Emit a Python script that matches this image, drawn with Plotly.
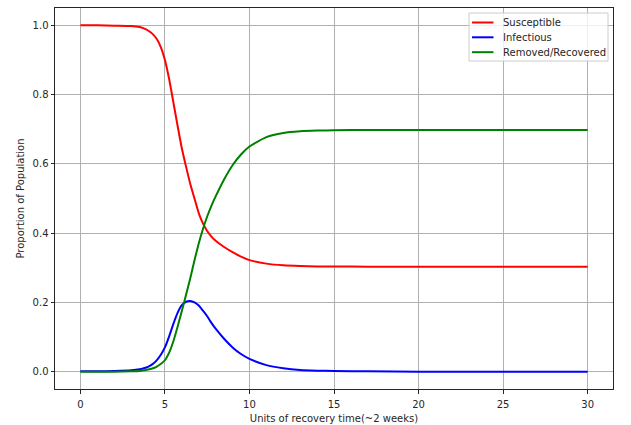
import plotly.graph_objects as go

t = [0, 1, 2, 3, 3.5, 3.75, 4, 4.25, 4.5, 4.75, 5, 5.25, 5.5, 5.75, 6, 6.25,
     6.5, 6.75, 7, 7.25, 7.5, 7.75, 8, 8.5, 9, 9.5, 10,
     11, 12, 13, 14, 15, 17, 20, 25, 30]
susceptible = [1.000, 1.000, 0.999, 0.998, 0.995, 0.991, 0.985, 0.976, 0.962,
               0.938, 0.900, 0.845, 0.778, 0.710, 0.645, 0.592, 0.542, 0.500,
               0.458, 0.428, 0.406, 0.390, 0.378, 0.360, 0.345, 0.332, 0.322,
               0.312, 0.307, 0.305, 0.304, 0.304, 0.303, 0.303, 0.303, 0.303]
infectious = [0.001, 0.001, 0.002, 0.004, 0.007, 0.010, 0.014, 0.021, 0.032,
              0.048, 0.070, 0.102, 0.138, 0.170, 0.192, 0.202, 0.204, 0.200,
              0.191, 0.176, 0.160, 0.141, 0.124, 0.095, 0.070, 0.051, 0.037,
              0.019, 0.010, 0.005, 0.003, 0.002, 0.001, 0.000, 0.000, 0.000]
recovered = [0.000, 0.000, 0.000, 0.001, 0.002, 0.004, 0.006, 0.009, 0.014,
             0.022, 0.033, 0.055, 0.088, 0.130, 0.175, 0.222, 0.270, 0.322,
             0.370, 0.412, 0.448, 0.479, 0.506, 0.555, 0.596, 0.627, 0.650,
             0.677, 0.689, 0.694, 0.696, 0.697, 0.698, 0.698, 0.698, 0.698]
names = ["Susceptible", "Infectious", "Removed/Recovered"]
colors = ["#ff0000", "#0000ff", "#008000"]
x_ticks = [0, 5, 10, 15, 20, 25, 30]
y_ticks = [0.0, 0.2, 0.4, 0.6, 0.8, 1.0]

W, H = 631, 425
L, R, T, B = 55, 18, 8, 36
PW, PH = W - L - R, H - T - B


def px_x(p):
    return (p - L) / PW


def px_y(p):
    return (H - B - p) / PH


fig = go.Figure()
for name, vals, c in zip(names, [susceptible, infectious, recovered], colors):
    fig.add_trace(go.Scatter(x=t, y=vals, name=name, mode="lines", showlegend=False,
                             line=dict(color=c, width=2, shape="spline", smoothing=0.6)))

axis_common = dict(showline=True, linecolor="#262626", linewidth=1, mirror=True,
                   showgrid=True, gridcolor="#b0b0b0", gridwidth=0.8,
                   ticks="outside", ticklen=3.5, tickcolor="#262626",
                   zeroline=False, automargin=False,
                   tickfont=dict(size=10, color="#262626"))
fig.update_xaxes(range=[-1.5, 31.5], tickvals=x_ticks, ticklabelstandoff=2,
                 title=dict(text="Units of recovery time(~2 weeks)", font=dict(size=10, color="#262626"), standoff=6),
                 **axis_common)
fig.update_yaxes(range=[-0.05, 1.05], tickvals=y_ticks, tickformat=".1f",
                 title=dict(text="Proportion of Population", font=dict(size=10, color="#262626"), standoff=6),
                 **axis_common)

# custom matplotlib-style legend
shapes = [dict(type="rect", xref="paper", yref="paper", layer="above",
               x0=px_x(469), x1=px_x(608), y0=px_y(61), y1=px_y(13),
               fillcolor="rgba(255,255,255,0.8)", line=dict(color="#cccccc", width=1))]
annotations = []
rows = [22.5, 37.3, 52.2]
for name, c, ry in zip(names, colors, rows):
    shapes.append(dict(type="line", xref="paper", yref="paper", layer="above",
                       x0=px_x(472), x1=px_x(493.5), y0=px_y(ry), y1=px_y(ry),
                       line=dict(color=c, width=2)))
    annotations.append(dict(xref="paper", yref="paper", x=px_x(501), y=px_y(ry),
                            xanchor="left", yanchor="middle", showarrow=False,
                            text=name, font=dict(size=10, color="#262626")))

fig.update_layout(
    width=W, height=H,
    margin=dict(l=L, r=R, t=T, b=B),
    paper_bgcolor="white", plot_bgcolor="white",
    font=dict(family="DejaVu Sans", size=10, color="#262626"),
    shapes=shapes, annotations=annotations,
    showlegend=False,
)
fig.write_html("out.html")
